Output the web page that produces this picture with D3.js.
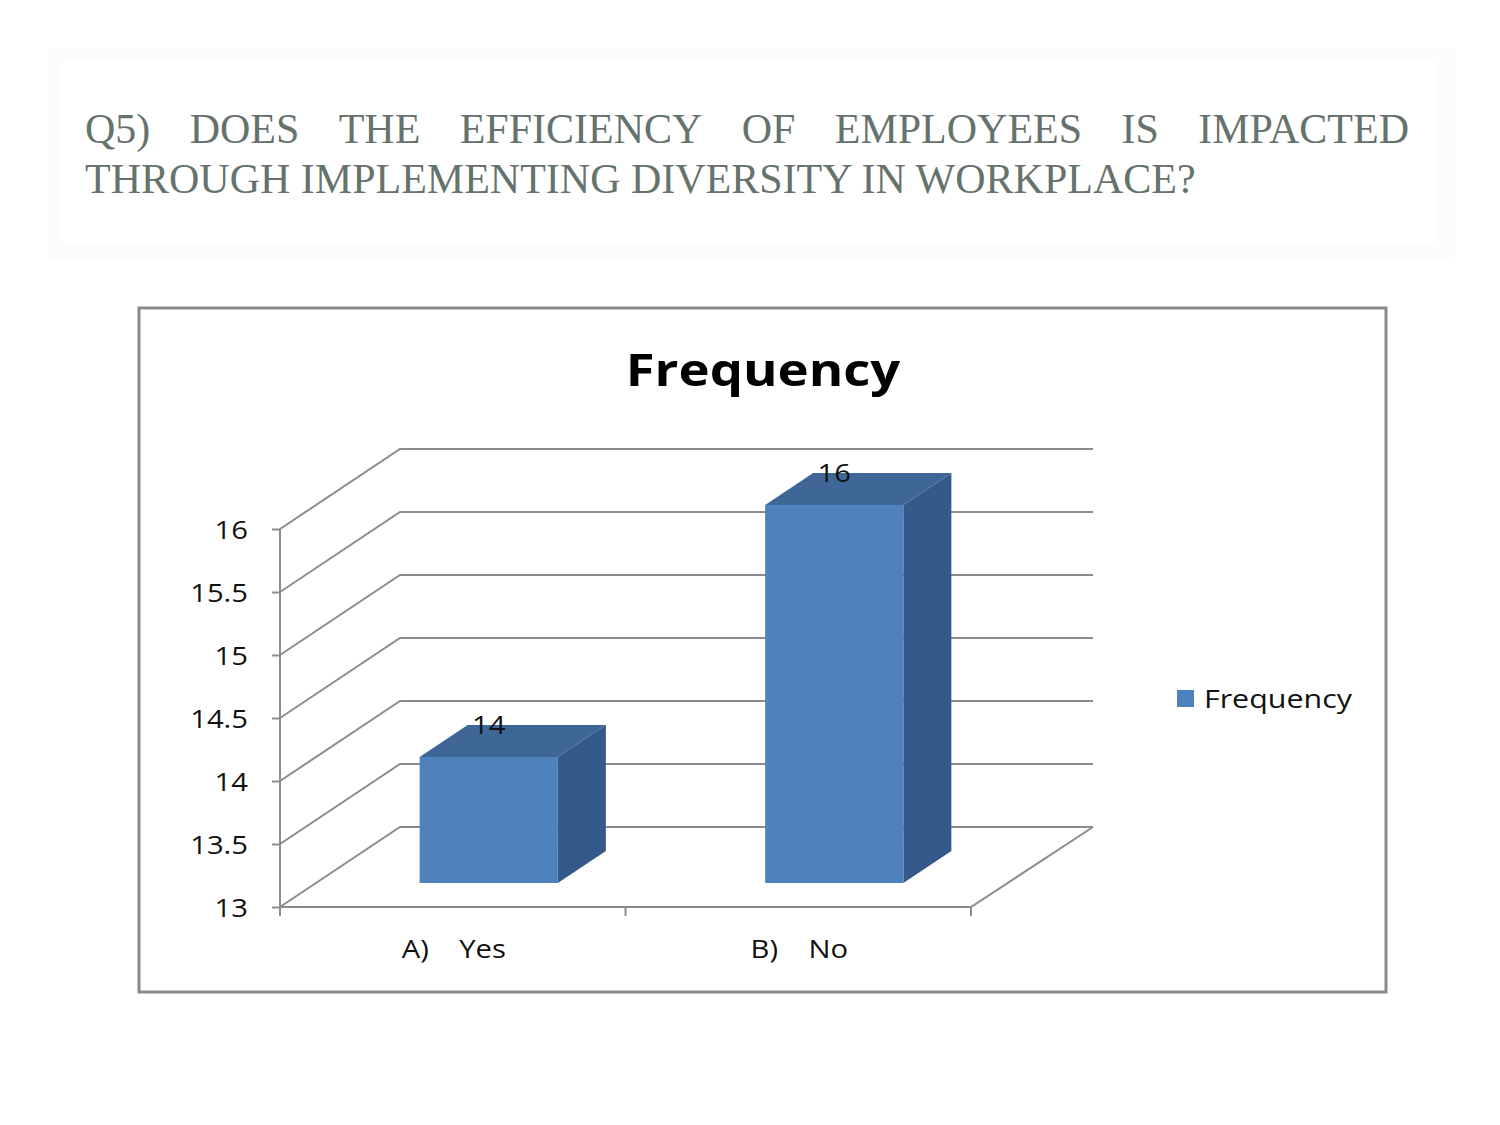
<!DOCTYPE html>
<html>
<head>
<meta charset="utf-8">
<script src="https://cdn.jsdelivr.net/npm/d3@7"></script>
<style>
  body { margin: 0; background: #fff; }
</style>
</head>
<body>
<div id="chart"></div>
<script>
// data
const categories = ['A)    Yes', 'B)    No'];
const frequency = [14, 16];
const yTicks = [13, 13.5, 14, 14.5, 15, 15.5, 16];
const seriesName = 'Frequency';
const headingLine1 = ['Q5)', 'DOES', 'THE', 'EFFICIENCY', 'OF', 'EMPLOYEES', 'IS', 'IMPACTED'];
const headingLine2 = 'THROUGH IMPLEMENTING DIVERSITY IN WORKPLACE?';

const width = 1500;
const height = 1125;
const chartFont = '"Open Sans", Lato, sans-serif';
const stretch = 1.17; // chart text in the original is drawn a little wide

const svg = d3.select('#chart').append('svg')
  .attr('width', width)
  .attr('height', height);

svg.append('rect').attr('width', width).attr('height', height).attr('fill', '#fff');

// place a text at (x, y), stretched horizontally
function wideText(parent, x, y, str) {
  return parent.append('text')
    .attr('transform', `translate(${x},${y}) scale(${stretch},1)`)
    .attr('font-family', chartFont)
    .attr('fill', '#111')
    .attr('xml:space', 'preserve')
    .style('white-space', 'pre')
    .text(str);
}

// faint heading boxes
svg.append('rect')
  .attr('x', 48).attr('y', 48).attr('width', 1407).attr('height', 210)
  .attr('fill', '#fcfcfc');
svg.append('rect')
  .attr('x', 62).attr('y', 62).attr('width', 1375).attr('height', 181)
  .attr('fill', '#fff');

// heading, first line justified
const headColor = '#66726c';
const headFont = '"Liberation Serif", "Times New Roman", serif';
const headSize = 42;
const headLeft = 85, headRight = 1409;
const line1 = svg.append('g');
const words = line1.selectAll('text')
  .data(headingLine1)
  .join('text')
  .attr('y', 143)
  .attr('font-family', headFont)
  .attr('font-size', headSize)
  .attr('fill', headColor)
  .text(d => d);
const widths = [];
words.each(function() { widths.push(this.getComputedTextLength()); });
const gap = (headRight - headLeft - d3.sum(widths)) / (widths.length - 1);
let cx = headLeft;
words.attr('x', (d, i) => {
  const x0 = cx;
  cx += widths[i] + gap;
  return x0;
});
svg.append('text')
  .attr('x', headLeft).attr('y', 193)
  .attr('font-family', headFont)
  .attr('font-size', headSize)
  .attr('fill', headColor)
  .text(headingLine2);

// chart frame
svg.append('rect')
  .attr('x', 139).attr('y', 308).attr('width', 1247).attr('height', 684)
  .attr('fill', '#fff')
  .attr('stroke', '#8a8a8a')
  .attr('stroke-width', 3);

wideText(svg, 763, 386, seriesName)
  .attr('text-anchor', 'middle')
  .attr('font-weight', 'bold')
  .attr('font-size', 45)
  .attr('fill', '#000');

// 3d plot geometry
const depthX = 120, depthY = -80;
const x = d3.scaleBand()
  .domain(categories)
  .range([280, 971])
  .padding(0);
const y = d3.scaleLinear()
  .domain([13, 16])
  .range([907, 529]);
const gridColor = '#8c8c8c';

const grid = svg.append('g').attr('class', 'grid');
grid.selectAll('path')
  .data(yTicks)
  .join('path')
  .attr('d', d => `M${x.range()[0]},${y(d)} L${x.range()[0] + depthX},${y(d) + depthY} L${x.range()[1] + depthX + 2},${y(d) + depthY}`)
  .attr('fill', 'none')
  .attr('stroke', gridColor)
  .attr('stroke-width', 2);

// floor front and right edges
grid.append('path')
  .attr('d', `M${x.range()[0]},${y(13)} L${x.range()[1]},${y(13)} L${x.range()[1] + depthX + 2},${y(13) + depthY}`)
  .attr('fill', 'none')
  .attr('stroke', gridColor)
  .attr('stroke-width', 2);

// y axis
const yAxis = svg.append('g')
  .attr('transform', `translate(${x.range()[0]},0)`)
  .call(d3.axisLeft(y).tickValues(yTicks).tickSize(8).tickFormat(d3.format('')));
yAxis.select('.domain').attr('stroke', gridColor).attr('stroke-width', 2)
  .attr('d', `M0,${y(13) + 4}V${y(16)}`);
yAxis.selectAll('.tick line').attr('stroke', gridColor).attr('stroke-width', 2);
yAxis.selectAll('.tick text')
  .attr('x', null)
  .attr('transform', `translate(-32,0) scale(${stretch},1)`)
  .attr('font-family', chartFont)
  .attr('font-size', 25)
  .attr('fill', '#111')
  .attr('dy', '0.36em');

// x axis ticks at band edges
const xEdges = [x.range()[0], ...categories.map(c => x(c) + x.bandwidth())];
svg.append('g').selectAll('line')
  .data(xEdges)
  .join('line')
  .attr('x1', d => d).attr('x2', d => d)
  .attr('y1', y(13)).attr('y2', y(13) + 9)
  .attr('stroke', gridColor)
  .attr('stroke-width', 2);
const xLabels = svg.append('g');
categories.forEach(c => {
  wideText(xLabels, x(c) + x.bandwidth() / 2 + 1, 958, c)
    .attr('text-anchor', 'middle')
    .attr('font-size', 25);
});

// bars: sit between 30% and 70% of the depth
const barW = x.bandwidth() * 0.4;
const f0 = 0.3, f1 = 0.7;
const bars = svg.append('g').attr('class', 'bars');
categories.forEach((c, i) => {
  const v = frequency[i];
  const fx = x(c) + (x.bandwidth() - barW) / 2 + depthX * f0;
  const fb = y(13) + depthY * f0;
  const ft = y(v) + depthY * f0;
  const ddx = depthX * (f1 - f0), ddy = depthY * (f1 - f0);
  // side
  bars.append('path')
    .attr('d', `M${fx + barW},${ft} L${fx + barW + ddx},${ft + ddy} L${fx + barW + ddx},${fb + ddy} L${fx + barW},${fb} Z`)
    .attr('fill', '#34598a');
  // top
  bars.append('path')
    .attr('d', `M${fx},${ft} L${fx + ddx},${ft + ddy} L${fx + barW + ddx},${ft + ddy} L${fx + barW},${ft} Z`)
    .attr('fill', '#3e6797');
  // front
  bars.append('rect')
    .attr('x', fx).attr('y', ft)
    .attr('width', barW).attr('height', fb - ft)
    .attr('fill', '#4f81bd');
  // value label
  wideText(bars, fx + barW / 2, y(v) + depthY * f1, String(v))
    .attr('dy', '0.36em')
    .attr('text-anchor', 'middle')
    .attr('font-size', 25);
});

// legend
const legend = svg.append('g').attr('transform', 'translate(1177,690)');
legend.append('rect').attr('width', 17).attr('height', 17).attr('fill', '#4f81bd');
wideText(legend, 27, 8.5, seriesName)
  .attr('dy', '0.36em')
  .attr('font-size', 26);
</script>
</body>
</html>
